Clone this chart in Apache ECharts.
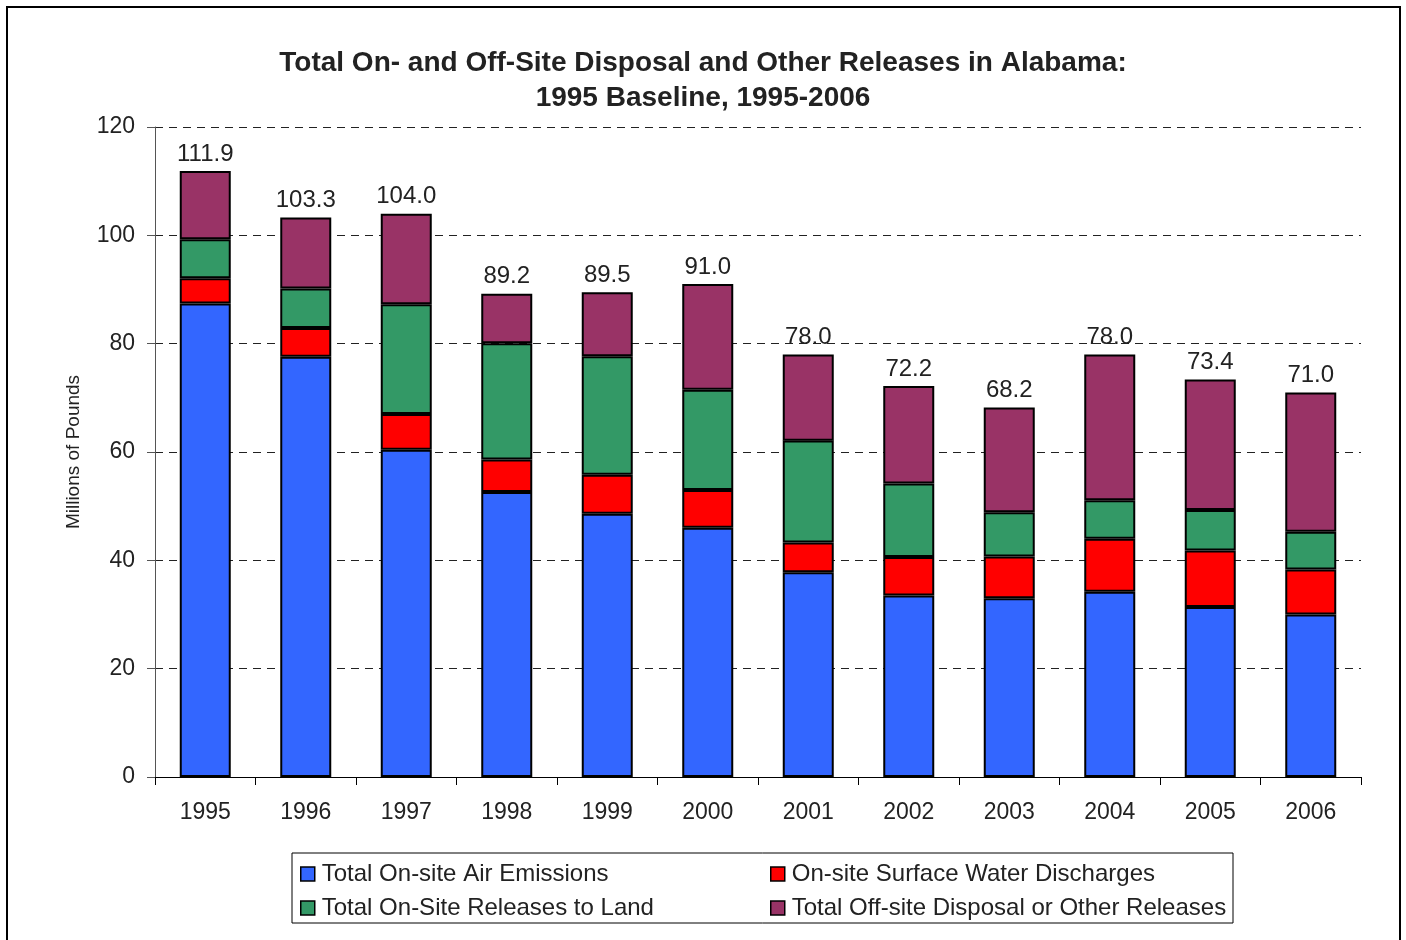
<!DOCTYPE html>
<html><head><meta charset="utf-8">
<script src="https://cdn.jsdelivr.net/npm/echarts@6/dist/echarts.min.js"></script>
<style>html,body{margin:0;padding:0;background:#fff}#c{width:1406px;height:940px}</style>
</head><body><div id="c"></div>
<script>
const years = ['1995','1996','1997','1998','1999','2000','2001','2002','2003','2004','2005','2006'];
const airEmissions = [87.4, 77.6, 60.4, 52.6, 48.6, 46.0, 37.8, 33.5, 33.0, 34.2, 31.4, 30.0];
const waterDischarges = [4.7, 5.3, 6.6, 6.0, 7.2, 7.0, 5.5, 7.1, 7.7, 9.8, 10.4, 8.3];
const landReleases = [7.2, 7.3, 20.3, 21.5, 21.9, 18.5, 18.8, 13.6, 8.2, 7.1, 7.5, 7.0];
const offsiteReleases = [12.6, 13.1, 16.7, 9.1, 11.8, 19.5, 15.9, 18.0, 19.3, 26.9, 24.1, 25.7];
const totals = [111.9, 103.3, 104.0, 89.2, 89.5, 91.0, 78.0, 72.2, 68.2, 78.0, 73.4, 71.0];
const yTicks = [0, 20, 40, 60, 80, 100, 120];

const FONT = '"Liberation Sans", Arial, sans-serif';
const names = ['Total On-site Air Emissions','On-site Surface Water Discharges','Total On-Site Releases to Land','Total Off-site Disposal or Other Releases'];
const colors = ['#3366FF','#FF0000','#339966','#993366'];
const datas = [airEmissions, waterDischarges, landReleases, offsiteReleases];

const chart = echarts.init(document.getElementById('c'));
const legendPos = [[300,862],[770,862],[300,896],[770,896]];
chart.setOption({
  backgroundColor: '#fff',
  animation: false,
  title: {
    text: 'Total On- and Off-Site Disposal and Other Releases in Alabama:\n1995 Baseline, 1995-2006',
    left: 'center', top: 41,
    textStyle: {fontFamily: FONT, fontSize: 28, fontWeight: 'bold', color: '#222', lineHeight: 35}
  },
  legend: [0,1,2,3].map(i => ({
    data: [{name: names[i], icon: 'rect'}], left: legendPos[i][0], top: legendPos[i][1],
    itemWidth: 14, itemHeight: 14, itemGap: 0, padding: 0,
    itemStyle: {borderColor: '#000', borderWidth: 1.5},
    textStyle: {fontFamily: FONT, fontSize: 24, color: '#222', padding: [0,0,0,2]},
    selectedMode: false
  })),
  grid: {left: 155, right: 45, top: 127, bottom: 163},
  xAxis: {
    type: 'category', data: years,
    axisLine: {lineStyle: {color: '#000', width: 1}},
    axisTick: {show: true, alignWithLabel: false, length: 8, lineStyle: {color: '#000'}},
    axisLabel: {fontFamily: FONT, fontSize: 23, color: '#222', margin: 24}
  },
  yAxis: {
    type: 'value', min: 0, max: 120, interval: 20,
    name: 'Millions of Pounds', nameLocation: 'middle', nameGap: 72,
    nameTextStyle: {fontFamily: FONT, fontSize: 19, color: '#222'},
    axisLine: {show: true, lineStyle: {color: '#555', width: 1}},
    axisTick: {show: true, length: 8, lineStyle: {color: '#555'}},
    axisLabel: {fontFamily: FONT, fontSize: 23, color: '#222', margin: 20,
      formatter: v => yTicks.includes(v) ? String(v) : ''},
    splitLine: {show: true, lineStyle: {color: '#222', type: [8,6], width: 1}}
  },
  series: datas.map((d, i) => ({
    name: names[i], type: 'bar', stack: 'total', data: d, barWidth: 51,
    itemStyle: {color: colors[i], borderColor: '#000', borderWidth: 2},
    label: i === 3 ? {
      show: true, position: 'top', distance: 5,
      fontFamily: FONT, fontSize: 24, color: '#222',
      formatter: p => totals[p.dataIndex].toFixed(1)
    } : {show: false}
  })),
  graphic: [
    {type: 'rect', shape: {x: 7, y: 7, width: 1393, height: 940}, style: {fill: 'none', stroke: '#000', lineWidth: 2}, silent: true},
    {type: 'rect', shape: {x: 292, y: 853, width: 941, height: 70}, style: {fill: 'none', stroke: '#000', lineWidth: 1}, silent: true}
  ]
});
</script></body></html>
